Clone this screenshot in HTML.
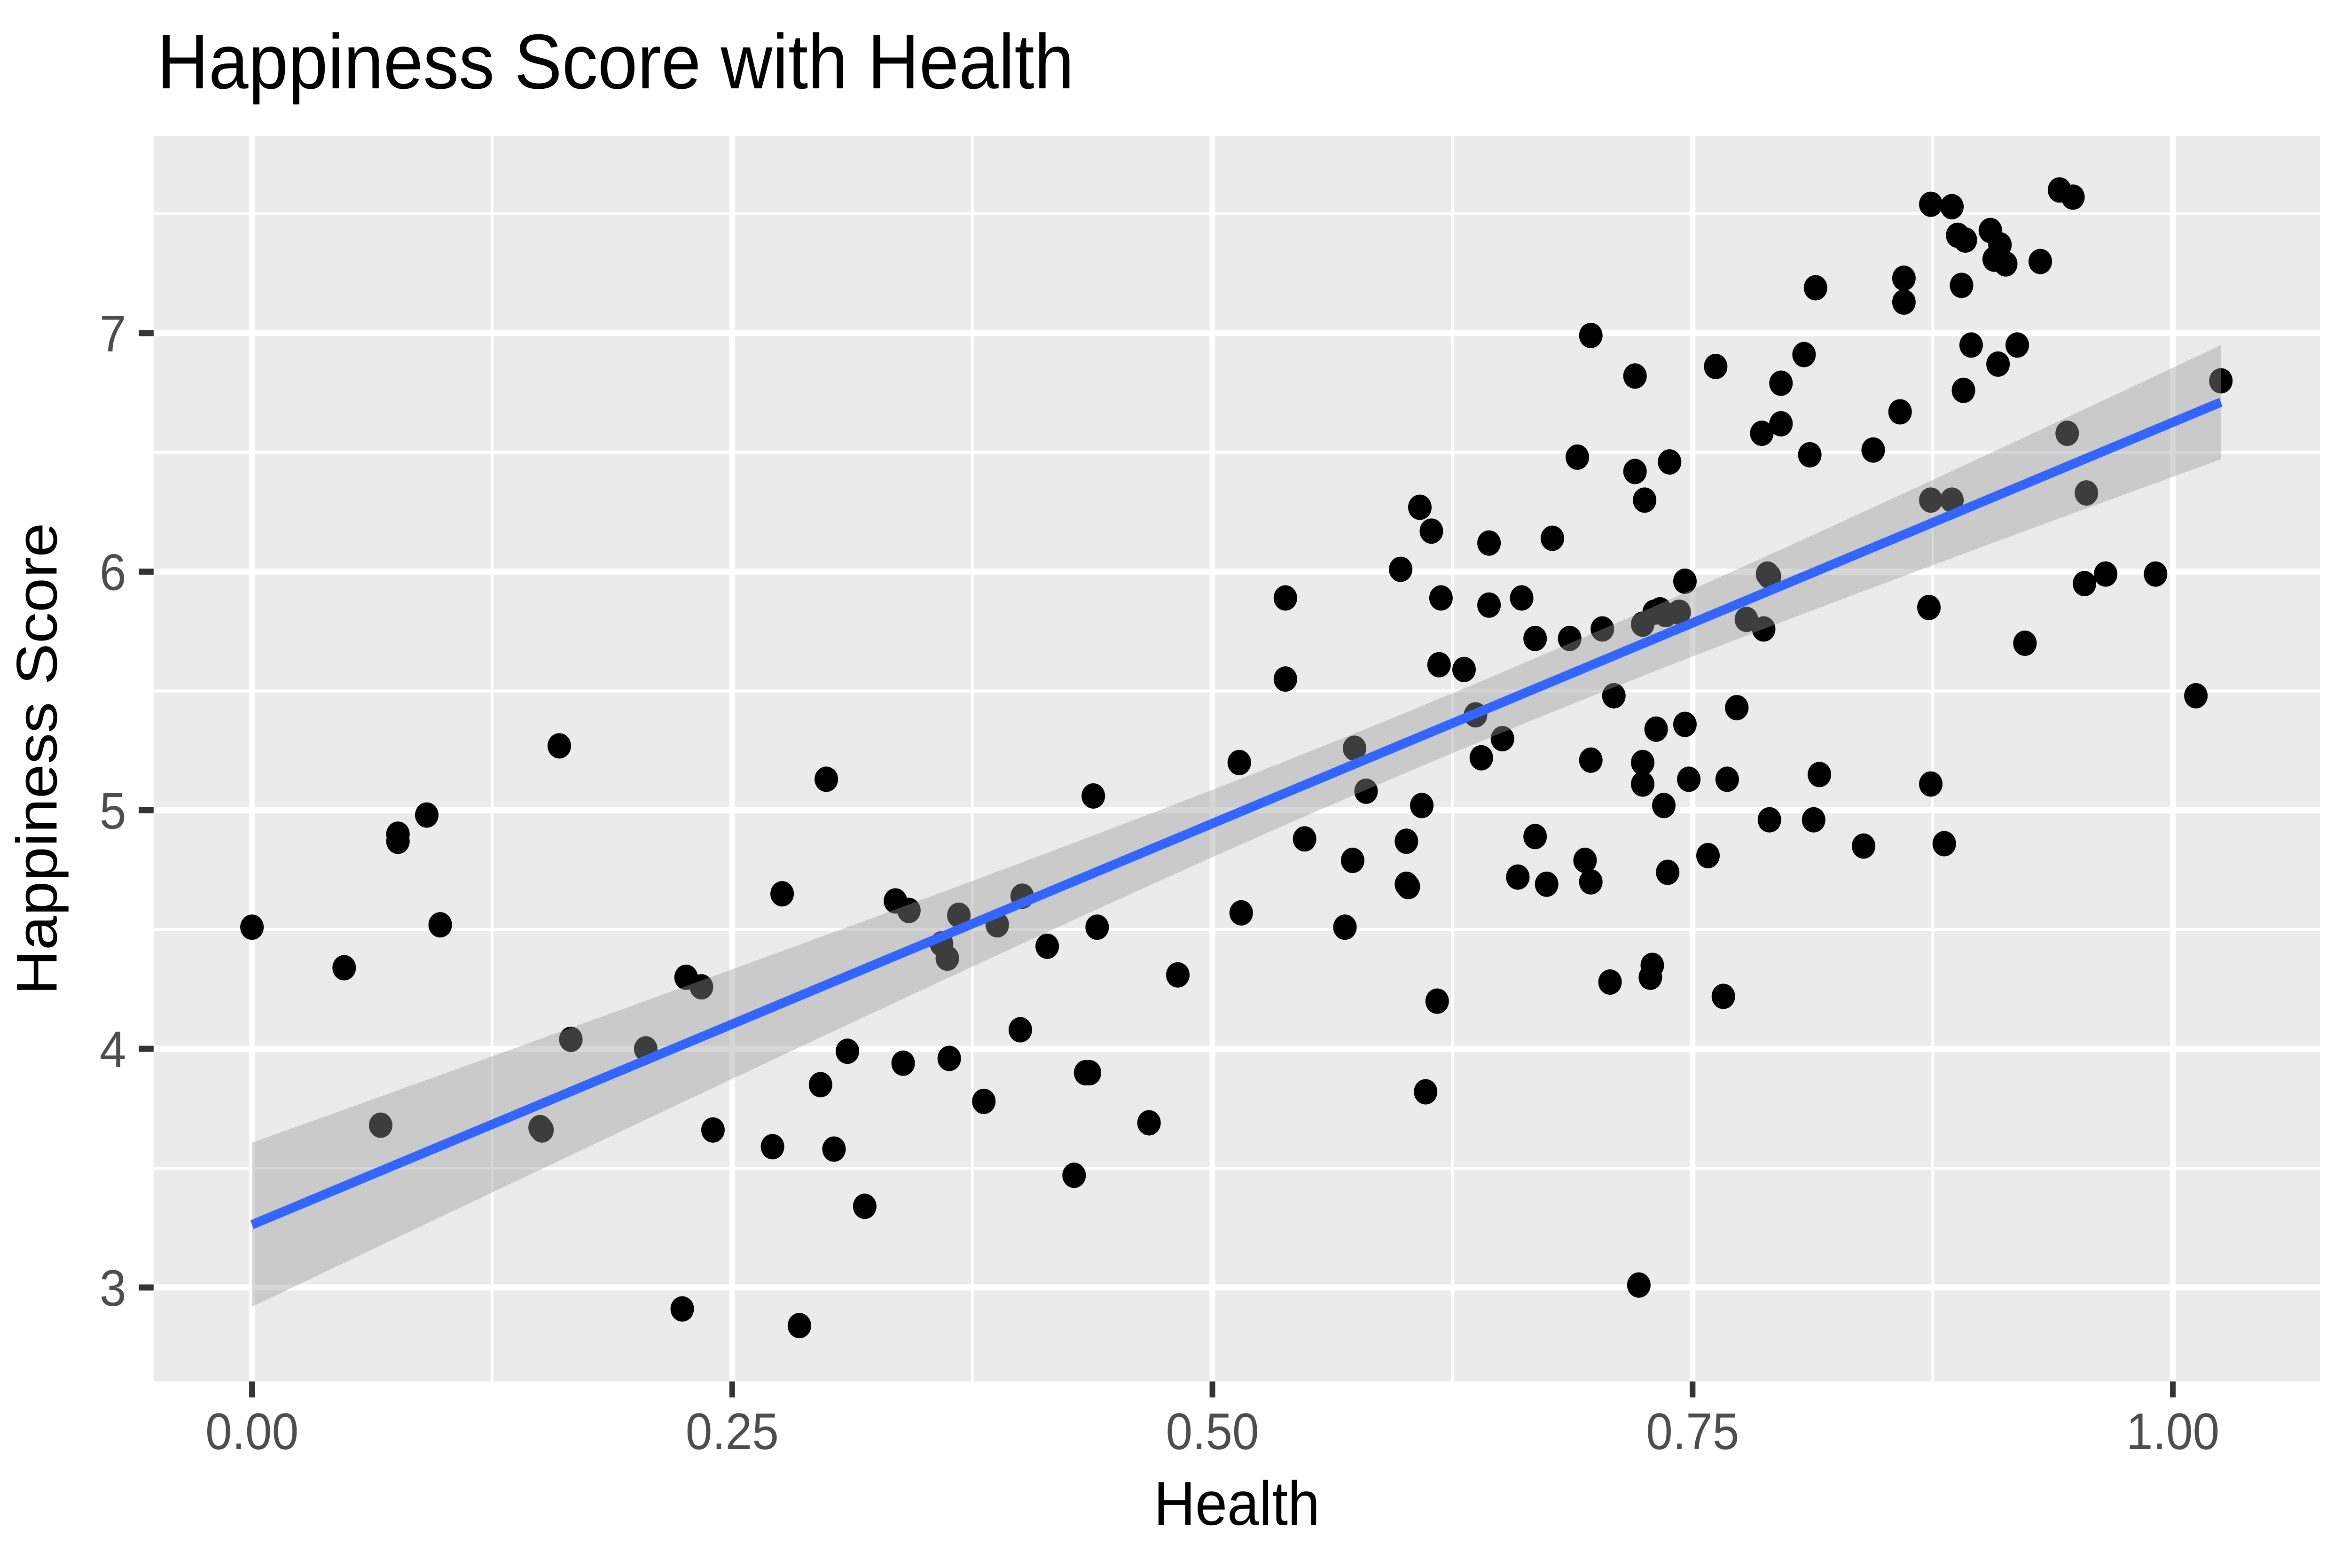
<!DOCTYPE html>
<html><head><meta charset="utf-8"><style>
html,body{margin:0;padding:0;background:#fff;width:100%;height:100%;overflow:hidden;}
svg{display:block;width:100vw;height:100vh;font-family:"Liberation Sans",Arial,sans-serif;}
</style></head><body>
<svg id="chart" viewBox="0 0 5400 3337" preserveAspectRatio="none" xmlns="http://www.w3.org/2000/svg">
<rect x="0" y="0" width="5400" height="3337" fill="#fff"/>
<text x="361" y="188" font-size="165" fill="#000" textLength="2107" lengthAdjust="spacingAndGlyphs">Happiness Score with Health</text>
<g id="panel"></g>
<text x="2842" y="3245" font-size="132" fill="#000" text-anchor="middle">Health</text>
<text transform="translate(130,1615) rotate(-90)" font-size="132" fill="#000" text-anchor="middle">Happiness Score</text>
</svg>
<script>
const health = [0.000,0.048,0.067,0.076,0.076,0.091,0.098,0.150,0.151,0.160,0.166,0.205,0.224,0.226,0.234,0.240,0.271,0.276,0.285,0.296,0.299,0.303,0.310,0.319,0.335,0.339,0.342,0.359,0.362,0.363,0.368,0.381,0.388,0.400,0.401,0.414,0.428,0.434,0.436,0.438,0.440,0.467,0.482,0.514,0.515,0.538,0.538,0.548,0.569,0.573,0.574,0.580,0.598,0.601,0.601,0.602,0.608,0.609,0.611,0.614,0.617,0.618,0.619,0.631,0.637,0.640,0.644,0.644,0.651,0.659,0.661,0.668,0.668,0.674,0.677,0.686,0.690,0.694,0.697,0.697,0.697,0.703,0.707,0.709,0.720,0.720,0.722,0.724,0.724,0.724,0.725,0.728,0.729,0.730,0.731,0.733,0.735,0.736,0.737,0.738,0.743,0.746,0.746,0.748,0.758,0.762,0.766,0.768,0.773,0.778,0.786,0.787,0.789,0.790,0.790,0.796,0.796,0.808,0.811,0.813,0.814,0.816,0.839,0.844,0.858,0.860,0.860,0.873,0.874,0.874,0.874,0.881,0.885,0.885,0.888,0.890,0.891,0.892,0.895,0.905,0.907,0.909,0.910,0.913,0.919,0.923,0.931,0.941,0.945,0.948,0.954,0.955,0.965,0.991,1.012,1.025];
const score = [4.51,4.34,3.68,4.87,4.90,4.98,4.52,3.67,3.66,5.27,4.04,4.00,2.91,4.30,4.26,3.66,3.59,4.65,2.84,3.85,5.13,3.58,3.99,3.34,4.62,3.94,4.58,4.44,4.38,3.96,4.56,3.78,4.52,4.08,4.64,4.43,3.47,3.90,3.90,5.06,4.51,3.69,4.31,5.20,4.57,5.89,5.55,4.88,4.51,4.79,5.26,5.08,6.01,4.69,4.87,4.68,6.27,5.02,3.82,6.17,4.20,5.61,5.89,5.59,5.40,5.22,6.12,5.86,5.30,4.72,5.89,4.89,5.72,4.69,6.14,5.72,6.48,4.79,5.21,6.99,4.70,5.76,4.28,5.48,6.82,6.42,3.01,5.78,5.20,5.11,6.30,4.30,4.35,5.83,5.34,5.84,5.02,5.82,4.74,6.46,5.83,5.96,5.36,5.13,4.81,6.86,4.22,5.13,5.43,5.80,6.58,5.76,5.99,5.98,4.96,6.79,6.62,6.91,6.49,4.96,7.19,5.15,4.85,6.51,6.67,7.23,7.13,5.85,6.30,5.11,7.54,4.86,7.53,6.30,7.41,7.20,6.76,7.39,6.95,7.43,7.31,6.87,7.37,7.29,6.95,5.70,7.30,7.60,6.58,7.57,5.95,6.33,5.99,5.99,5.48,6.80];
const xTickVals = [0, 0.25, 0.5, 0.75, 1.0];
const xTickLabels = ["0.00","0.25","0.50","0.75","1.00"];
const yTickVals = [3, 4, 5, 6, 7];
const yTickLabels = ["3","4","5","6","7"];

const NS = "http://www.w3.org/2000/svg";
const P = {l:353, r:5331, t:290, b:2940};
const xDom = [-0.0512, 1.0766], yDom = [2.606, 7.825];
const X = v => P.l + (v - xDom[0]) / (xDom[1] - xDom[0]) * (P.r - P.l);
const Y = v => P.b - (v - yDom[0]) / (yDom[1] - yDom[0]) * (P.b - P.t);
const svg = document.getElementById('chart');
const panel = document.getElementById('panel');
function mk(tag, attrs, parent) {
  const e = document.createElementNS(NS, tag);
  for (const k in attrs) e.setAttribute(k, attrs[k]);
  (parent || panel).appendChild(e);
  return e;
}
let e = mk('rect', {x:P.l, y:P.t, width:P.r-P.l, height:P.b-P.t, fill:'#EBEBEB'});


for (let i = 0; i < xTickVals.length - 1; i++) {
  const v = (xTickVals[i] + xTickVals[i+1]) / 2;
  e = mk('line', {x1:X(v), x2:X(v), y1:P.t, y2:P.b, stroke:'#fff', 'stroke-width':6});
  
  
}
for (let i = 0; i < yTickVals.length - 1; i++) {
  const v = (yTickVals[i] + yTickVals[i+1]) / 2;
  e = mk('line', {x1:P.l, x2:P.r, y1:Y(v), y2:Y(v), stroke:'#fff', 'stroke-width':6});
  
  
}
{
  const v = yTickVals[yTickVals.length-1] + 0.5;
  e = mk('line', {x1:P.l, x2:P.r, y1:Y(v), y2:Y(v), stroke:'#fff', 'stroke-width':6});
  
  
}
xTickVals.forEach((v, i) => {
  e = mk('line', {x1:X(v), x2:X(v), y1:P.t, y2:P.b, stroke:'#fff', 'stroke-width':13});
  
  
  e = mk('line', {x1:X(v), x2:X(v), y1:P.b, y2:P.b+34, stroke:'#333', 'stroke-width':13}, svg);
  
  
  e = mk('text', {x:X(v), y:3084, 'font-size':110, fill:'#4D4D4D', 'text-anchor':'middle'}, svg);
  e.textContent = xTickLabels[i];
  
  
});
yTickVals.forEach((v, i) => {
  e = mk('line', {x1:P.l, x2:P.r, y1:Y(v), y2:Y(v), stroke:'#fff', 'stroke-width':13});
  
  
  e = mk('line', {x1:P.l-34, x2:P.l, y1:Y(v), y2:Y(v), stroke:'#333', 'stroke-width':13}, svg);
  
  
  e = mk('text', {x:290, y:Y(v)+39, 'font-size':110, fill:'#4D4D4D', 'text-anchor':'end'}, svg);
  e.textContent = yTickLabels[i];
  
  
});
health.forEach((h, i) => {
  e = mk('circle', {cx:X(h), cy:Y(score[i]), r:27, fill:'#000'});
  
  
});
const n = health.length;
const xm = health.reduce((a,b)=>a+b,0)/n, ym = score.reduce((a,b)=>a+b,0)/n;
let sxx = 0, sxy = 0;
for (let i = 0; i < n; i++) { sxx += (health[i]-xm)**2; sxy += (health[i]-xm)*(score[i]-ym); }
const b1 = sxy/sxx, b0 = ym - b1*xm;
let sse = 0;
for (let i = 0; i < n; i++) sse += (score[i] - b0 - b1*health[i])**2;
const s = Math.sqrt(sse/(n-2)), tq = 1.975;
const xmin = Math.min(...health), xmax = Math.max(...health);
const up = [], lo = [];
for (let k = 0; k <= 80; k++) {
  const xv = xmin + (xmax - xmin) * k / 80;
  const f = b0 + b1*xv;
  const se = s*Math.sqrt(1/n + (xv-xm)**2/sxx);
  up.push(X(xv)+','+Y(f + tq*se));
  lo.unshift(X(xv)+','+Y(f - tq*se));
}
e = mk('polygon', {points: up.concat(lo).join(' '), fill:'#999', 'fill-opacity':0.4});


e = mk('line', {x1:X(xmin), y1:Y(b0+b1*xmin), x2:X(xmax), y2:Y(b0+b1*xmax), stroke:'#3366FF', 'stroke-width':20});


</script>
</body></html>
